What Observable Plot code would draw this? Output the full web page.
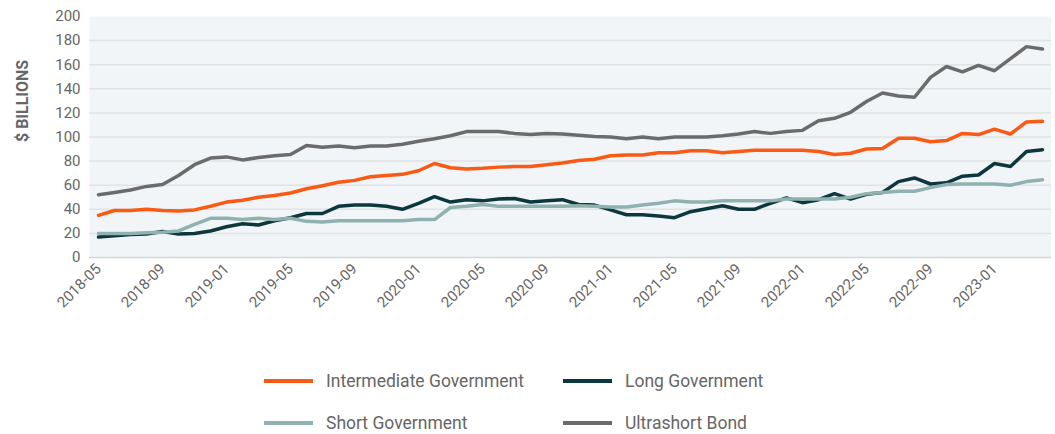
<!DOCTYPE html>
<html><head><meta charset="utf-8">
<script src="https://cdn.jsdelivr.net/npm/d3@7"></script>
<script src="https://cdn.jsdelivr.net/npm/@observablehq/plot@0.6"></script>
<style>
body{margin:0;background:#fff;font-family:Roboto,"Liberation Sans",sans-serif;}
#chart svg{display:block}
#legend{display:grid;grid-template-columns:299px 320px;margin-left:264px;row-gap:20px;margin-top:40px;}
.item{display:flex;align-items:center;font-size:17.5px;color:#666;height:22px;white-space:nowrap}
.sw{width:49px;height:4px;margin-right:13px;flex:none}
</style></head><body><div id="chart"></div><div id="legend"></div>
<script>
const months = [
"2018-05","2018-06","2018-07","2018-08","2018-09","2018-10","2018-11","2018-12",
"2019-01","2019-02","2019-03","2019-04","2019-05","2019-06","2019-07","2019-08","2019-09","2019-10","2019-11","2019-12",
"2020-01","2020-02","2020-03","2020-04","2020-05","2020-06","2020-07","2020-08","2020-09","2020-10","2020-11","2020-12",
"2021-01","2021-02","2021-03","2021-04","2021-05","2021-06","2021-07","2021-08","2021-09","2021-10","2021-11","2021-12",
"2022-01","2022-02","2022-03","2022-04","2022-05","2022-06","2022-07","2022-08","2022-09","2022-10","2022-11","2022-12",
"2023-01","2023-02","2023-03","2023-04"];
const tickMonths = ["2018-05","2018-09","2019-01","2019-05","2019-09","2020-01","2020-05","2020-09","2021-01","2021-05","2021-09","2022-01","2022-05","2022-09","2023-01"];
const yTicks = [0,20,40,60,80,100,120,140,160,180,200];
const seriesNames = ["Intermediate Government","Long Government","Short Government","Ultrashort Bond"];
const seriesColors = ["#fa5a14","#0c373e","#8fb2b0","#6b6b6b"];

const intermediate = [35,39,39,40,39,38.5,39.5,42.5,46,47.5,
  50,51.5,53.5,57,59.5,62.5,64,67,68,69,
  72,78,74.5,73.5,74,75,75.5,75.5,77,78.5,
  80.5,81.5,84.5,85,85,87,87,88.5,88.5,87,
  88,89,89,89,89,88,85.5,86.5,90,90.5,
  99,99,96,97,103,102,106.5,102.5,112.5,113];
const longGov = [17,18,19,19.5,21.5,19.5,20,22,25.5,28,
  27,30.5,33,36.5,36.5,42.5,43.5,43.5,42.5,40,
  45,50.5,46,48,47,48.5,49,46,47,48,
  44,43.5,39.5,35.5,35.5,34.5,33,38,40.5,43,
  40,40,45,49.5,45.5,48,53,48.5,52.5,54,
  63,66,61,62,67.5,68.5,78,75.5,88,89.5];
const shortGov = [20,20,20,20.5,21,22,27.5,32.5,32.5,31.5,
  32.5,31.5,32.5,30,29.5,30.5,30.5,30.5,30.5,30.5,
  31.5,31.5,41.5,42.5,44,42.5,42.5,42.5,42.5,42.5,
  43,42.5,42,42,43.5,45,47,46,46,47,
  47,47,47,48.5,48.5,48.5,48.5,50,53,54,
  55,55,58,60.5,61,61,61,60,63,64.5];
const ultrashort = [52,54,56,59,60.5,68,77,82.5,83.5,81,
  83,84.5,85.5,93,91.5,92.5,91,92.5,92.5,94,
  96.5,98.5,101,104.5,104.5,104.5,103,102,103,102.5,
  101.5,100.5,100,98.5,100,98.5,100,100,100,101,
  102.5,104.5,103,104.5,105.5,113.5,115.5,120.5,129.5,136.5,
  134,133,149.5,158.5,154,159.5,155,165,175,173];

const seriesValues = [intermediate, longGov, shortGov, ultrashort];
const rows = seriesNames.flatMap((name, s) => months.map((m, i) => ({series: name, month: m, value: seriesValues[s][i]})));

const chart = Plot.plot({
  width: 1055,
  height: 330,
  marginLeft: 89,
  marginRight: 4,
  marginTop: 16,
  marginBottom: 73,
  style: {fontFamily: "Roboto, 'Liberation Sans', sans-serif", background: "#fff", color: "#666"},
  x: {type: "point", domain: months, padding: 0.5},
  y: {domain: [0, 200]},
  color: {domain: seriesNames, range: seriesColors},
  marks: [
    Plot.frame({fill: "#f2f5f7", stroke: null}),
    Plot.ruleY(yTicks.filter(d => d > 0 && d < 200), {stroke: "#dfe3e5", strokeWidth: 1.5}),
    Plot.ruleY([0], {stroke: "#d3d7d9", strokeWidth: 1.5}),
    Plot.line(rows, {x: "month", y: "value", z: "series", stroke: "series", strokeWidth: 3.5, strokeLinejoin: "miter"}),
    Plot.axisY({ticks: yTicks, tickSize: 0, tickPadding: 9, fontSize: 15, fill: "#666", label: null}),
    Plot.axisX({ticks: tickMonths, tickSize: 0, tickPadding: 9, tickRotate: -45, fontSize: 15, fill: "#666", label: null}),
    Plot.text(["$ BILLIONS"], {frameAnchor: "left", rotate: -90, dx: -67, dy: 5, fontSize: 16, fontWeight: "bold", fill: "#666"})
  ]
});
document.getElementById("chart").appendChild(chart);

const legend = document.getElementById("legend");
seriesNames.forEach((name, i) => {
  const item = document.createElement("div");
  item.className = "item";
  const sw = document.createElement("span");
  sw.className = "sw";
  sw.style.background = seriesColors[i];
  const label = document.createElement("span");
  label.textContent = name;
  item.appendChild(sw);
  item.appendChild(label);
  legend.appendChild(item);
});
</script>
</body></html>
